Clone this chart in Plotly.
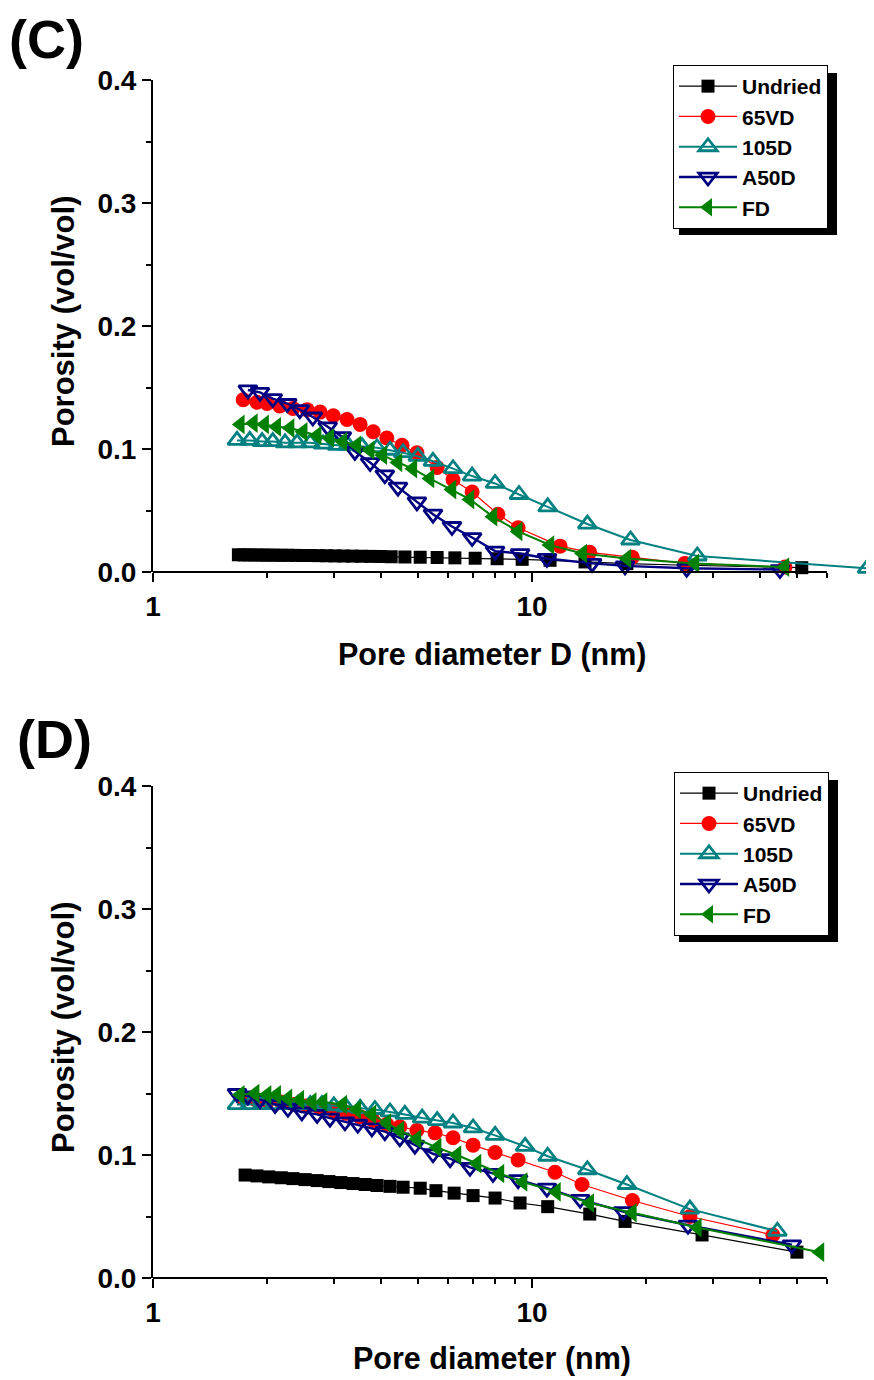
import math
import plotly.graph_objects as go

# ---------------- data: panel (C) ----------------
c_undried_x = [1.68, 1.74, 1.80, 1.87, 1.94, 2.01, 2.09, 2.18, 2.27, 2.37, 2.48, 2.60, 2.73, 2.87, 3.02, 3.18, 3.36, 3.55, 3.76, 3.99, 4.25,
               4.62, 5.07, 5.62, 6.26, 7.08, 8.09, 9.42, 11.16, 13.8, 17.8, 25.6, 51.5]
c_undried_y = [0.0140, 0.0139, 0.0139, 0.0138, 0.0138, 0.0137, 0.0137, 0.0136, 0.0136, 0.0135, 0.0134, 0.0134, 0.0133, 0.0132, 0.0131,
               0.0130, 0.0129, 0.0128, 0.0127, 0.0126, 0.0124,
               0.0122, 0.0120, 0.0118, 0.0115, 0.0112, 0.0108, 0.0103, 0.0095, 0.0082, 0.0068, 0.0055, 0.0035]

c_65vd_x = [1.73, 1.88, 2.00, 2.16, 2.34, 2.55, 2.76, 2.99, 3.25, 3.52, 3.81, 4.14, 4.54, 4.97, 5.62, 6.19, 6.95, 8.13, 9.19, 11.86,
            14.2, 18.4, 25.3, 46.5]
c_65vd_y = [0.140, 0.138, 0.137, 0.135, 0.133, 0.132, 0.130, 0.127, 0.124, 0.120, 0.114, 0.109, 0.103, 0.097, 0.085, 0.075, 0.065,
            0.047, 0.036, 0.021, 0.016, 0.012, 0.007, 0.004]

c_105d_x = [1.666, 1.80, 1.94, 2.07, 2.23, 2.40, 2.60, 2.81, 3.06, 3.27, 3.56, 3.90, 4.22, 4.57, 5.00, 5.48, 6.19, 6.95, 7.99, 9.24,
            11.0, 14.0, 18.2, 27.3, 76.6]
c_105d_y = [0.107, 0.107, 0.106, 0.106, 0.105, 0.105, 0.105, 0.104, 0.103, 0.103, 0.102, 0.101, 0.099, 0.097, 0.094, 0.090, 0.084,
            0.078, 0.072, 0.063, 0.053, 0.039, 0.026, 0.013, 0.003]

c_a50d_x = [1.78, 1.915, 2.07, 2.26, 2.44, 2.64, 2.89, 3.15, 3.41, 3.74, 4.09, 4.43, 4.97, 5.48, 6.15, 6.95, 7.99, 9.30, 10.95, 14.4,
            17.6, 25.6, 45.1]
c_a50d_y = [0.148, 0.146, 0.141, 0.137, 0.132, 0.126, 0.118, 0.110, 0.098, 0.089, 0.079, 0.069, 0.057, 0.047, 0.037, 0.028, 0.017,
            0.015, 0.011, 0.007, 0.005, 0.003, 0.002]

c_fd_x = [1.70, 1.84, 1.97, 2.12, 2.30, 2.49, 2.71, 2.93, 3.17, 3.45, 3.74, 4.04, 4.43, 4.85, 5.38, 6.15, 6.86, 7.89, 9.19, 11.15,
          13.6, 17.8, 26.9, 46.5]
c_fd_y = [0.120, 0.121, 0.120, 0.118, 0.117, 0.114, 0.111, 0.109, 0.106, 0.103, 0.099, 0.095, 0.089, 0.084, 0.076, 0.067, 0.059,
          0.045, 0.033, 0.022, 0.015, 0.011, 0.007, 0.004]

# ---------------- data: panel (D) ----------------
d_undried_x = [1.75, 1.88, 2.02, 2.18, 2.34, 2.52, 2.71, 2.91, 3.13, 3.37, 3.63, 3.90, 4.22, 4.57, 5.07, 5.58, 6.23, 6.99, 7.99,
               9.30, 11.0, 14.2, 17.6, 28.1, 50.0]
d_undried_y = [0.0837, 0.0830, 0.0822, 0.0815, 0.0808, 0.0800, 0.0792, 0.0784, 0.0776, 0.0768, 0.0760, 0.0752, 0.0745, 0.0738,
               0.0730, 0.0710, 0.0690, 0.0670, 0.0650, 0.0610, 0.0580, 0.0520, 0.0460, 0.0350, 0.0210]

d_65vd_x = [1.73, 1.87, 2.01, 2.18, 2.36, 2.55, 2.76, 2.99, 3.23, 3.52, 3.81, 4.14, 4.48, 4.97, 5.55, 6.19, 6.99, 7.99, 9.19, 11.5,
            13.55, 18.4, 26.1, 43.2]
d_65vd_y = [0.146, 0.145, 0.144, 0.143, 0.141, 0.140, 0.138, 0.136, 0.134, 0.131, 0.128, 0.125, 0.123, 0.120, 0.118, 0.114, 0.108,
            0.102, 0.096, 0.086, 0.076, 0.063, 0.050, 0.035]

d_105d_x = [1.666, 1.80, 1.94, 2.09, 2.24, 2.41, 2.60, 2.79, 3.00, 3.23, 3.52, 3.85, 4.22, 4.62, 5.13, 5.62, 6.19, 6.99, 7.99, 9.59,
            11.0, 14.0, 17.8, 26.1, 44.4]
d_105d_y = [0.141, 0.141, 0.141, 0.141, 0.141, 0.141, 0.141, 0.141, 0.140, 0.139, 0.138, 0.137, 0.135, 0.133, 0.130, 0.128, 0.126,
            0.122, 0.116, 0.107, 0.099, 0.088, 0.076, 0.056, 0.038]

d_a50d_x = [1.666, 1.78, 1.915, 2.10, 2.27, 2.47, 2.71, 2.93, 3.21, 3.47, 3.78, 4.09, 4.48, 4.91, 5.48, 6.08, 6.86, 7.89, 9.19, 10.95,
            13.4, 17.4, 25.8, 48.5]
d_a50d_y = [0.150, 0.148, 0.145, 0.141, 0.138, 0.135, 0.133, 0.130, 0.127, 0.125, 0.122, 0.119, 0.114, 0.108, 0.101, 0.097, 0.090,
            0.085, 0.080, 0.073, 0.064, 0.054, 0.043, 0.027]

d_fd_x = [1.70, 1.86, 2.00, 2.12, 2.27, 2.44, 2.63, 2.81, 3.17, 3.45, 3.78, 4.14, 4.48, 4.97, 5.62, 6.34, 7.16, 8.23, 9.47, 11.6,
          14.2, 18.4, 27.3, 57.5]
d_fd_y = [0.149, 0.150, 0.149, 0.149, 0.146, 0.145, 0.143, 0.143, 0.141, 0.137, 0.133, 0.126, 0.120, 0.113, 0.106, 0.100, 0.093,
          0.085, 0.078, 0.070, 0.061, 0.053, 0.041, 0.021]

series_names = ["Undried", "65VD", "105D", "A50D", "FD"]
x_major_ticks = [1, 10]
x_minor_ticks = [2, 3, 4, 5, 6, 7, 8, 9, 20, 30, 40, 50, 60]
x_axis_end = 60
y_ticks = [0.0, 0.1, 0.2, 0.3, 0.4]
panel_labels = ["(C)", "(D)"]
x_titles = ["Pore diameter D (nm)", "Pore diameter (nm)"]
y_title = "Porosity (vol/vol)"

# ---------------- styles ----------------
styles = {
    "Undried": dict(color="#000000", symbol="square", size=13, lw=1.2, mlw=0),
    "65VD": dict(color="#FF0000", symbol="circle", size=15, lw=1.2, mlw=0),
    "105D": dict(color="#008080", symbol="triangle-up-open", size=16, lw=2, mlw=2.8),
    "A50D": dict(color="#000080", symbol="triangle-down-open", size=16, lw=2.4, mlw=2.8),
    "FD": dict(color="#008000", symbol="triangle-left", size=17, lw=2, mlw=0),
}

W, H = 874, 1380
OFF = 8            # page offset of the figure inside the browser window
ML, MR, MT, MB = 145, 0, 16, 16
PW = W - ML - MR
PH = H - MT - MB
FONT = "Liberation Sans, Arial, sans-serif"


def px_x(px):
    # screen pixel -> paper fraction
    return (px - OFF - ML) / PW


def px_y(py):
    return 1 - (py - OFF - MT) / PH


DECADE_PX = 379
x_range_max = PW / DECADE_PX

fig = go.Figure()

panels = [
    ("x", "y", [c_undried_x, c_65vd_x, c_105d_x, c_a50d_x, c_fd_x],
     [c_undried_y, c_65vd_y, c_105d_y, c_a50d_y, c_fd_y], "legend"),
    ("x2", "y2", [d_undried_x, d_65vd_x, d_105d_x, d_a50d_x, d_fd_x],
     [d_undried_y, d_65vd_y, d_105d_y, d_a50d_y, d_fd_y], "legend2"),
]

for xa, ya, xs, ys, leg in panels:
    for name, xv, yv in zip(series_names, xs, ys):
        st = styles[name]
        fig.add_trace(go.Scatter(
            x=xv, y=yv, name=name, mode="lines+markers", xaxis=xa, yaxis=ya, legend=leg,
            cliponaxis=False,
            line=dict(color=st["color"], width=st["lw"]),
            marker=dict(symbol=st["symbol"], size=st["size"], color=st["color"],
                        line=dict(color=st["color"], width=st["mlw"])),
        ))

top_dom = [px_y(572), px_y(80)]
bot_dom = [px_y(1278), px_y(786)]

xaxis_common = dict(
    type="log", range=[0, x_range_max], showline=False, showgrid=False, zeroline=False,
    tickmode="array", tickvals=x_major_ticks, ticktext=[str(v) for v in x_major_ticks],
    ticks="outside", ticklen=9, tickwidth=2, tickcolor="black",
    tickfont=dict(family=FONT, size=28, color="black", weight="bold"),
    minor=dict(tickmode="array", tickvals=x_minor_ticks, ticks="outside", ticklen=5,
               tickwidth=2, tickcolor="black"),
)
yaxis_common = dict(
    range=[0, 0.4], showline=True, linecolor="black", linewidth=2, showgrid=False, zeroline=False,
    tickmode="array", tickvals=y_ticks, ticktext=["%.1f" % v for v in y_ticks],
    ticks="outside", ticklen=9, tickwidth=2, tickcolor="black",
    tickfont=dict(family=FONT, size=28, color="black", weight="bold"),
    minor=dict(tickmode="linear", tick0=0.05, dtick=0.1, ticks="outside", ticklen=5,
               tickwidth=2, tickcolor="black"),
)

fig.update_layout(
    width=W, height=H,
    margin=dict(l=ML, r=MR, t=MT, b=MB, pad=0),
    paper_bgcolor="white", plot_bgcolor="white",
    xaxis=dict(**xaxis_common, domain=[0, 1], anchor="y"),
    yaxis=dict(**yaxis_common, domain=top_dom, anchor="x"),
    xaxis2=dict(**xaxis_common, domain=[0, 1], anchor="y2"),
    yaxis2=dict(**yaxis_common, domain=bot_dom, anchor="x2"),
    showlegend=True,
)

legend_common = dict(
    xanchor="right", yanchor="top", bgcolor="white", bordercolor="black", borderwidth=1,
    font=dict(family=FONT, size=21, color="black", weight="bold"),
    itemwidth=58, tracegroupgap=0, traceorder="normal",
)
fig.update_layout(
    legend=dict(**legend_common, x=px_x(828), y=px_y(65)),
    legend2=dict(**legend_common, x=px_x(829), y=px_y(772)),
)

LEG_H = 162  # approximate rendered legend box height (px)
shapes = []
x_end_frac = math.log10(x_axis_end) / x_range_max
for xd, yd, leg_top, leg_right in [("x domain", "y domain", 65, 828), ("x2 domain", "y2 domain", 772, 829)]:
    shapes.append(dict(type="line", xref=xd, yref=yd, x0=0, x1=x_end_frac, y0=0, y1=0,
                       line=dict(color="black", width=2)))
    shapes.append(dict(type="rect", xref="paper", yref="paper",
                       x0=px_x(679), x1=px_x(leg_right + 9),
                       y0=px_y(leg_top + LEG_H + 8), y1=px_y(leg_top + 8),
                       fillcolor="black", line=dict(width=0), layer="below"))
fig.update_layout(shapes=shapes)

annotations = []
for lbl, (cx, cy) in zip(panel_labels, [(46, 39), (54, 739)]):
    annotations.append(dict(text=lbl, x=px_x(cx), y=px_y(cy), xref="paper", yref="paper",
                            showarrow=False, xanchor="center", yanchor="middle",
                            font=dict(family=FONT, size=54, color="black", weight="bold")))
for t, cy in zip(x_titles, [655, 1358]):
    annotations.append(dict(text=t, x=px_x(492), y=px_y(cy), xref="paper", yref="paper",
                            showarrow=False, xanchor="center", yanchor="middle",
                            font=dict(family=FONT, size=30.5, color="black", weight="bold")))
for cy in [322, 1028]:
    annotations.append(dict(text=y_title, x=px_x(63), y=px_y(cy), xref="paper", yref="paper",
                            showarrow=False, xanchor="center", yanchor="middle", textangle=-90,
                            font=dict(family=FONT, size=31, color="black", weight="bold")))
fig.update_layout(annotations=annotations)

fig.write_html("out.html")
